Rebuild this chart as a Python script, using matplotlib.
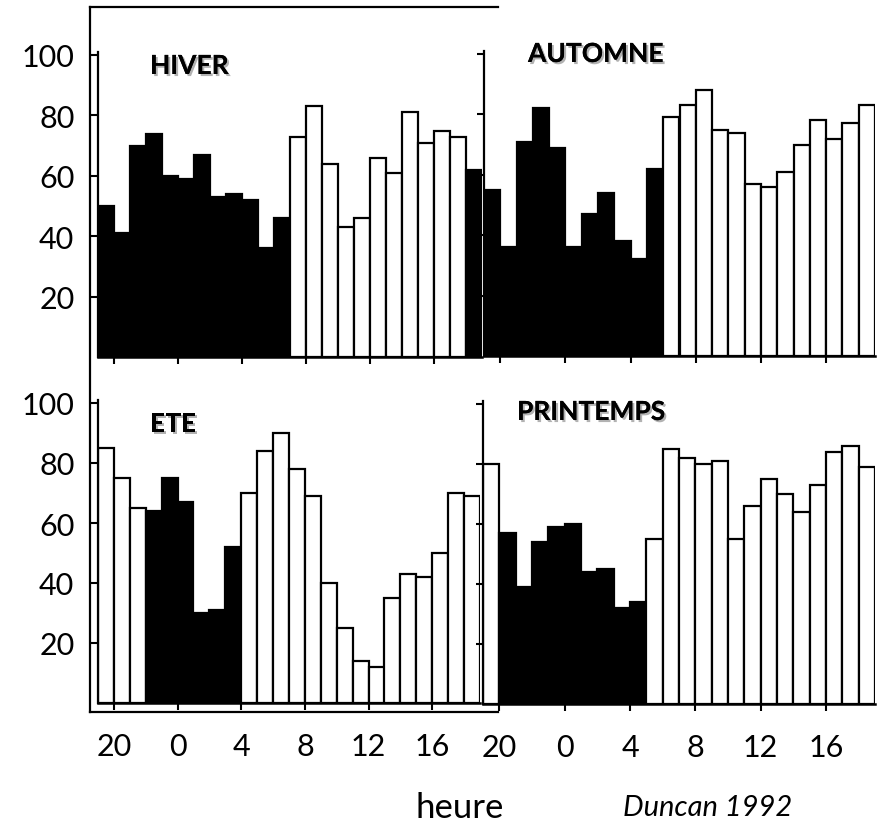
import numpy as np
import matplotlib
matplotlib.use("Agg")
import matplotlib.pyplot as plt
import matplotlib.patheffects as pe
from matplotlib.lines import Line2D

plt.rcParams['font.family'] = ['Lato', 'DejaVu Sans']

# hours of the 24 bars (bar i = hour 19+i)
hours = [(19 + i) % 24 for i in range(24)]
tick_hours = [20, 0, 4, 8, 12, 16]

# values, 1 = night (black bar)
hiver = [50, 41, 70, 74, 60, 59, 67, 53, 54, 52, 36, 46,
         73, 83, 64, 43, 46, 66, 61, 81, 71, 75, 73, 62]
hiver_nuit = [1] * 12 + [0] * 11 + [1]

automne = [55, 36, 71, 82, 69, 36, 47, 54, 38, 32, 62,
           79, 83, 88, 75, 74, 57, 56, 61, 70, 78, 72, 77, 83]
automne_nuit = [1] * 11 + [0] * 13

ete = [85, 75, 65, 64, 75, 67, 30, 31, 52,
       70, 84, 90, 78, 69, 40, 25, 14, 12, 35, 43, 42, 50, 70, 69]
ete_nuit = [0] * 3 + [1] * 6 + [0] * 15

printemps = [80, 57, 39, 54, 59, 60, 44, 45, 32, 34,
             55, 85, 82, 80, 81, 55, 66, 75, 70, 64, 73, 84, 86, 79]
printemps_nuit = [0] + [1] * 9 + [0] * 14

fig = plt.figure(figsize=(8.85, 8.28), dpi=100)
W, H = 885, 828

def panel(left, right, bottom, pxunit, vals, nuit, title, tx, ty, ylab, xlab):
    ax = fig.add_axes([left / W, 1 - bottom / H, (right - left) / W, 105 * pxunit / H])
    x = np.arange(24)
    cols = ['black' if n else 'white' for n in nuit]
    ax.bar(x, vals, width=1.0, color=cols, edgecolor='black', linewidth=1.6)
    ax.set_xlim(-0.5, 23.5)
    ax.set_ylim(0, 105)
    for s in ['top', 'right']:
        ax.spines[s].set_visible(False)
    ax.spines['left'].set_bounds(0, 101)
    ax.spines['left'].set_linewidth(1.6)
    ax.spines['bottom'].set_linewidth(1.8)
    ax.set_yticks([20, 40, 60, 80, 100])
    ax.set_xticks([hours.index(h) - 0.5 for h in tick_hours])
    ax.tick_params(direction='out', length=5, width=1.5, labelsize=22)
    ax.tick_params(axis='y', pad=12)
    ax.tick_params(axis='x', pad=16)
    if ylab:
        ax.set_yticklabels(['20', '40', '60', '80', '100'])
    else:
        ax.set_yticklabels([])
    if xlab:
        ax.set_xticklabels([str(h) for h in tick_hours])
    else:
        ax.set_xticklabels([])
    fig.text(tx / W, 1 - ty / H, title, fontsize=19, fontweight='bold',
             va='center', ha='left',
             path_effects=[pe.withSimplePatchShadow(offset=(1.5, -1.5), alpha=0.3), pe.Normal()])
    return ax

panel(98, 482, 358, 3.02, hiver, hiver_nuit, 'HIVER', 150, 67, True, False)
panel(484, 875, 357, 3.02, automne, automne_nuit, 'AUTOMNE', 528, 55, False, False)
panel(98, 480, 704, 3.0, ete, ete_nuit, 'ETE', 150, 425, True, True)
panel(483, 875, 705, 3.0, printemps, printemps_nuit, 'PRINTEMPS', 517, 413, False, True)

# frame of the left column (scan collage)
for xs, ys in [([90, 498], [8, 8]), ([90, 90], [8, 713]), ([90, 498], [713, 713])]:
    fig.add_artist(Line2D([v / W for v in xs], [1 - v / H for v in ys],
                          color='black', linewidth=1.6))

fig.text(460 / W, 1 - 808 / H, 'heure', fontsize=25, ha='center', va='center')
fig.text(708 / W, 1 - 808 / H, 'Duncan 1992', fontsize=21, style='italic',
         ha='center', va='center')

plt.savefig('out.png', dpi=100)
